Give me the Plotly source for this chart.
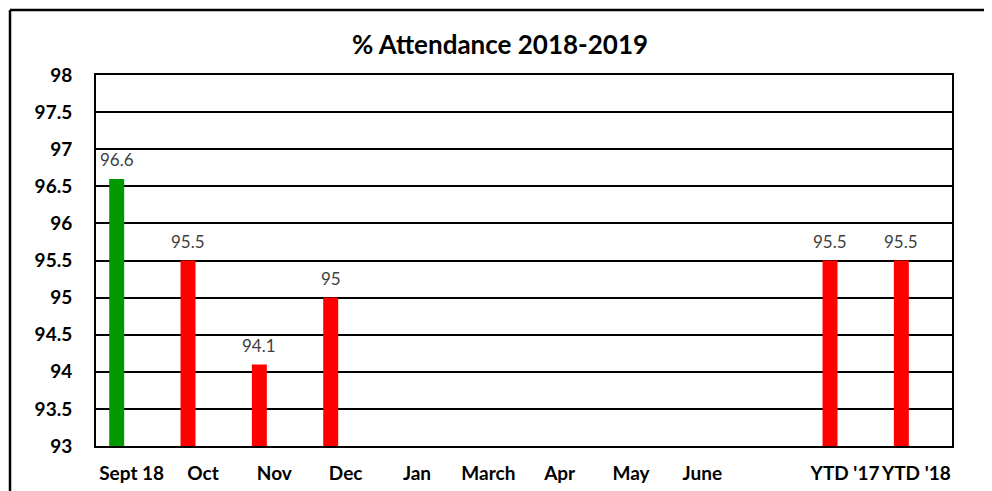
import plotly.graph_objects as go

categories = ["Sept 18", "Oct", "Nov", "Dec", "Jan", "March", "Apr", "May", "June", " ", "YTD '17", "YTD '18"]
attendance = [96.6, 95.5, 94.1, 95.0, None, None, None, None, None, None, 95.5, 95.5]
y_ticks = [93, 93.5, 94, 94.5, 95, 95.5, 96, 96.5, 97, 97.5, 98]
target = 96

colors = ["#009900" if (v is not None and v >= target) else "#FF0000" for v in attendance]

# page body has an 8px margin; figure origin sits at (8, 8)
OFF = 8
W, H = 992 - OFF, 491 - OFF
ml, mt = 96 - OFF, 75 - OFF
mr = W - (952 - OFF)
mb = H - (446 - OFF)
pw, ph = W - ml - mr, H - mt - mb

fig = go.Figure()
fig.add_trace(go.Bar(
    x=categories, y=attendance,
    marker=dict(color=colors, line=dict(width=0)),
    offset=-0.315, width=0.21,
    hoverinfo="x+y",
))

font_main = "Lato, 'Open Sans', sans-serif"
annotations = []
for c, v in zip(categories, attendance):
    if v is None:
        continue
    annotations.append(dict(
        x=c, y=v, text=f"{v:g}", showarrow=False,
        xshift=-15, yshift=19, yanchor="middle",
        font=dict(family=font_main, size=17, color="#404040"),
    ))

bx0 = (10 - 96) / pw
bx1 = (991 - 96) / pw
by0 = -(mb + 20) / ph
by1 = 1 + (75 - 10) / ph
border = dict(type="line", xref="paper", yref="paper", layer="below")
shapes = [
    dict(border, x0=bx0, x1=bx1 + 0.01, y0=by1, y1=by1, line=dict(color="black", width=2.5)),
    dict(border, x0=bx0, x1=bx0, y0=by0, y1=by1, line=dict(color="black", width=2.5)),
    dict(border, x0=bx1, x1=bx1, y0=by0, y1=by1, line=dict(color="#d9d9d9", width=1.5)),
]

fig.update_layout(
    width=W, height=H,
    margin=dict(l=ml, r=mr, t=mt, b=mb, autoexpand=False),
    paper_bgcolor="white", plot_bgcolor="white",
    showlegend=False,
    title=dict(text="<b>% Attendance 2018-2019</b>", x=(500 - OFF) / W, xanchor="center",
               y=1 - (45 - OFF) / H, yanchor="middle",
               font=dict(family=font_main, size=26, color="black")),
    xaxis=dict(type="category", range=[-0.5, 11.5], showgrid=False,
               showline=True, linecolor="black", linewidth=2, mirror=True,
               ticks="", tickangle=0, automargin=False,
               tickfont=dict(family=font_main, size=19, color="black", weight="bold"),
               ticklabelstandoff=9, fixedrange=True),
    yaxis=dict(range=[93, 98], tickvals=y_ticks, showgrid=True, gridcolor="black", gridwidth=1.5,
               showline=True, linecolor="black", linewidth=2, mirror=True, zeroline=False,
               ticks="", automargin=False,
               tickfont=dict(family=font_main, size=19, color="black", weight="bold"),
               ticklabelstandoff=18, fixedrange=True),
    annotations=annotations,
    shapes=shapes,
)

fig.write_html("out.html")
